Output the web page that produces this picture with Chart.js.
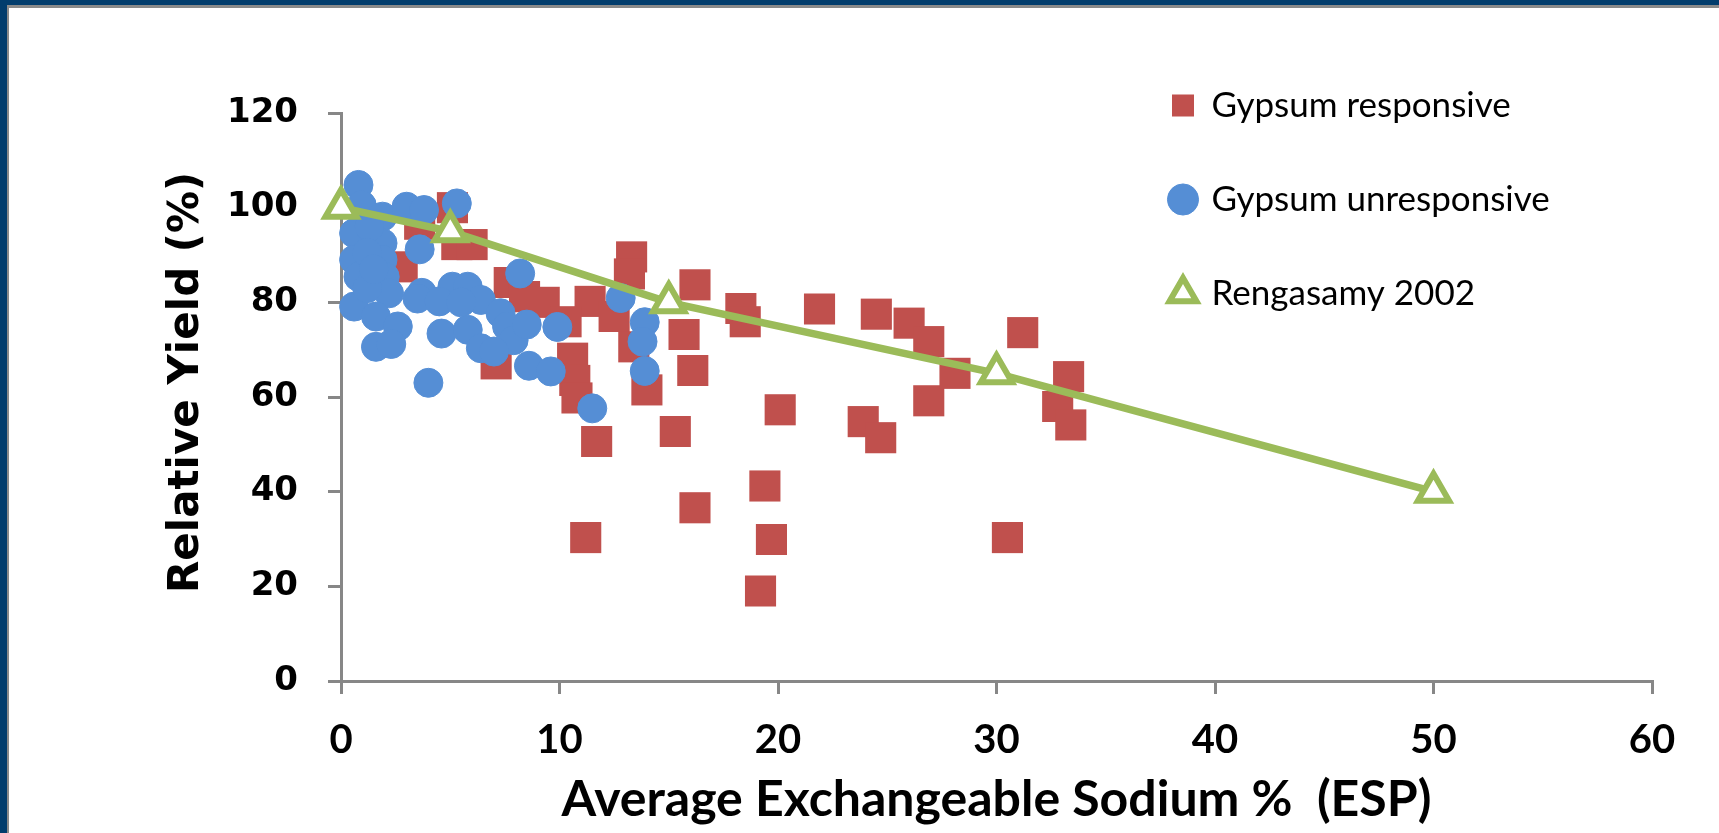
<!DOCTYPE html>
<html>
<head>
<meta charset="utf-8">
<script src="https://cdn.jsdelivr.net/npm/chart.js@4.4.1/dist/chart.umd.min.js"></script>
<style>
html,body{margin:0;padding:0;background:#fff;}
#wrap{position:relative;width:1719px;height:833px;overflow:hidden;background:#fff;}
#frame{position:absolute;left:0;top:0;width:1719px;height:833px;box-sizing:border-box;border-top:5px solid #023D6D;border-left:7px solid #023D6D;box-shadow:inset 2px 3px 0 0 #8A8A8A;}
canvas{position:absolute;left:0;top:0;}
</style>
</head>
<body>
<div id="wrap"><div id="frame"></div><canvas id="c" width="1719" height="833"></canvas></div>
<script>
// ---- data ----
const seriesNames = ['Gypsum responsive', 'Gypsum unresponsive', 'Rengasamy 2002'];
const xTitle = 'Average Exchangeable Sodium %  (ESP)';
const yTitle = 'Relative Yield (%)';

const respESP   = [3.6, 5.1, 5.3, 6.0, 2.8, 7.7, 8.4, 9.3, 11.4, 10.3, 12.5, 10.6, 10.7, 10.8, 7.1, 11.7, 11.2, 13.3, 13.2, 13.4, 14.0, 15.3, 15.7, 16.2, 16.1, 16.2, 18.3, 18.5, 19.4, 19.7, 19.2, 20.1, 21.9, 23.9, 24.5, 24.7, 26.0, 26.9, 26.9, 28.1, 30.5, 31.2, 32.8, 33.3, 33.4];
const respYield = [96.5, 100.0, 92.2, 92.2, 87.5, 84.2, 81.2, 80.0, 80.2, 75.9, 77.0, 68.2, 63.5, 59.8, 67.0, 50.6, 30.3, 89.6, 86.0, 70.6, 61.5, 52.7, 73.2, 83.7, 65.6, 36.6, 78.7, 75.9, 41.2, 29.9, 19.0, 57.3, 78.6, 54.8, 77.5, 51.4, 75.6, 71.7, 59.2, 65.0, 30.3, 73.6, 58.0, 64.3, 54.1];

const unrespESP   = [0.8, 0.95, 1.9, 3.0, 3.8, 5.3, 3.6, 0.6, 1.9, 0.6, 1.9, 0.8, 2.0, 2.2, 0.6, 1.6, 2.6, 1.6, 2.3, 3.7, 3.5, 4.6, 5.1, 5.8, 5.8, 6.4, 7.3, 7.6, 7.9, 6.4, 7.0, 4.0, 8.2, 8.5, 8.6, 9.6, 9.9, 11.5, 12.8, 13.9, 13.8, 13.9, 1.3, 1.2, 1.2, 1.5, 4.5, 5.5];
const unrespYield = [104.8, 100.5, 98.1, 100.2, 99.5, 100.9, 91.2, 94.6, 92.5, 89.0, 89.0, 85.4, 85.4, 81.9, 79.1, 77.0, 74.9, 70.6, 71.2, 82.0, 80.8, 73.4, 83.3, 83.3, 74.2, 80.5, 77.7, 74.9, 72.0, 70.3, 69.6, 63.0, 86.1, 75.3, 66.6, 65.4, 74.8, 57.6, 80.9, 75.8, 71.7, 65.5, 96.0, 83.0, 90.5, 87.0, 80.2, 80.0];

const rengESP   = [0, 5, 15, 30, 50];
const rengYield = [100, 95, 80, 65, 40];

const xRange = [0, 60, 10];   // min, max, step
const yRange = [0, 120, 20];

// ---- build ----
const toPts = (xs, ys) => xs.map((x, i) => ({x: x, y: ys[i]}));
const AXIS = '#878787';

const legendPlace = {
  id: 'legendPlace',
  afterLayout(chart) {
    const lg = chart.legend;
    if (!lg) return;
    const w = lg.width, h = lg.height;
    lg.left = 1113; lg.top = 29;
    lg.right = lg.left + w; lg.bottom = lg.top + h;
  }
};

new Chart(document.getElementById('c'), {
  type: 'scatter',
  data: {
    datasets: [
      {
        label: seriesNames[0],
        data: toPts(respESP, respYield),
        pointStyle: 'rect', pointRadius: 22, pointHoverRadius: 22,
        backgroundColor: '#C0504D', borderColor: '#C0504D', borderWidth: 1,
        pointBackgroundColor: '#C0504D', pointBorderColor: '#C0504D', pointBorderWidth: 0,
        showLine: false, order: 3, clip: false
      },
      {
        label: seriesNames[1],
        data: toPts(unrespESP, unrespYield),
        pointStyle: 'circle', pointRadius: 14.5, pointHoverRadius: 14.5,
        backgroundColor: '#558ED5', borderColor: '#558ED5', borderWidth: 1,
        pointBackgroundColor: '#558ED5', pointBorderColor: '#558ED5', pointBorderWidth: 1,
        showLine: false, order: 2, clip: false
      },
      {
        label: seriesNames[2],
        data: toPts(rengESP, rengYield),
        showLine: true, tension: 0, fill: false,
        borderColor: '#9BBB59', borderWidth: 7.5, backgroundColor: '#FFFFFF',
        pointStyle: 'triangle', pointRadius: 18, pointHoverRadius: 18,
        pointBorderWidth: 6, pointBorderColor: '#9BBB59', pointBackgroundColor: '#FFFFFF',
        order: 1, clip: false
      }
    ]
  },
  options: {
    responsive: false,
    animation: false,
    devicePixelRatio: 1,
    layout: { padding: { left: 12, right: 67, top: 113, bottom: 0 } },
    plugins: {
      tooltip: { enabled: false },
      legend: {
        position: 'chartArea',
        align: 'start',
        labels: {
          usePointStyle: true, boxWidth: 22, boxHeight: 22, padding: 59,
          color: '#000', font: { family: 'Lato', size: 35 },
          sort: (a, b) => a.datasetIndex - b.datasetIndex
        }
      }
    },
    scales: {
      x: {
        type: 'linear', min: xRange[0], max: xRange[1],
        ticks: { stepSize: xRange[2], color: '#000', padding: 22,
                 font: { family: 'Lato', weight: 'bold', size: 40 } },
        grid: { drawOnChartArea: false, drawTicks: true, tickLength: 13, color: AXIS, lineWidth: 3 },
        border: { display: true, color: AXIS, width: 3 },
        title: { display: true, text: xTitle, color: '#000',
                 font: { family: 'Lato', weight: 'bold', size: 50 }, padding: { top: 0, bottom: 3 } },
        afterFit(s) { s.height = 152; }
      },
      y: {
        type: 'linear', min: yRange[0], max: yRange[1],
        ticks: { stepSize: yRange[2], color: '#000', padding: 30,
                 font: { family: 'DejaVu Sans', weight: 'bold', size: 34 } },
        grid: { drawOnChartArea: false, drawTicks: true, tickLength: 13, color: AXIS, lineWidth: 3 },
        border: { display: true, color: AXIS, width: 3 },
        title: { display: true, text: '  ' + yTitle, color: '#000',
                 font: { family: 'DejaVu Sans', weight: 'bold', size: 42 }, padding: { top: 150, bottom: 0 } },
        afterFit(s) { s.width = 329; }
      }
    }
  },
  plugins: [legendPlace]
});
</script>
</body>
</html>
